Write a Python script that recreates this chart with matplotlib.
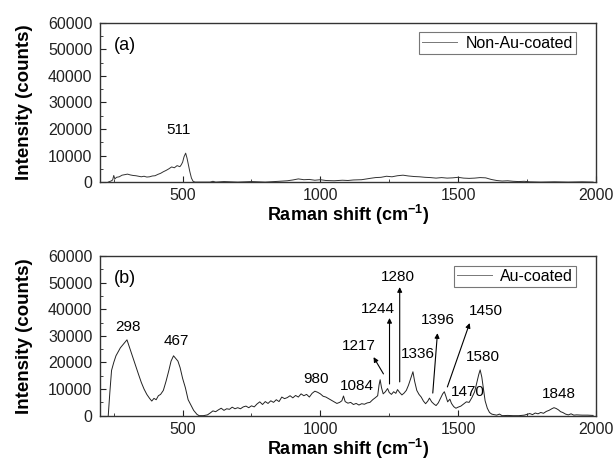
import matplotlib
matplotlib.use('Agg')
import matplotlib.pyplot as plt
from matplotlib.ticker import MultipleLocator

plt.rcParams['font.family'] = ['Liberation Sans', 'DejaVu Sans']

# (a) Non-Au-coated spectrum
shift_a = [230, 240, 246, 250, 254, 260, 270, 280, 290, 300, 310, 320, 330, 340, 350,
           360, 370, 380, 390, 400, 410, 420, 430, 440, 450, 460, 470, 480, 490, 495,
           500, 505, 511, 516, 520, 526, 532, 538, 545, 600, 610, 620, 650, 700, 750,
           800, 850, 880, 900, 920, 940, 960, 980, 1000, 1020, 1050, 1080, 1100, 1120,
           1150, 1180, 1200, 1220, 1240, 1260, 1280, 1300, 1320, 1340, 1360, 1380, 1400,
           1420, 1440, 1460, 1480, 1500, 1520, 1540, 1560, 1580, 1600, 1620, 1640, 1660,
           1680, 1700, 1720, 1740, 1760, 1800, 1850, 1900, 1950, 1990]
int_a = [0, 400, 800, 2500, 1200, 1800, 2000, 2600, 2800, 3000, 2700, 2500, 2400, 2200, 2000,
         2200, 1900, 2000, 2300, 2400, 2900, 3300, 3900, 4400, 5000, 5700, 5400, 6200, 5800, 6500,
         7500, 9500, 10900, 9000, 7000, 4000, 1500, 300, 0, 0, 300, 0, 200, 0, 200,
         0, 300, 500, 800, 1200, 900, 1000, 700, 900, 600, 500, 700, 600, 800,
         900, 1400, 1700, 1800, 2200, 2000, 2400, 2600, 2300, 2100, 2000, 1800, 1700,
         1500, 1700, 1500, 1600, 1800, 1500, 1400, 1500, 1700, 1600, 1000, 600, 400,
         500, 300, 200, 300, 100, 0, 100, 0, 100, 0]

# (b) Au-coated spectrum
shift_b = [230, 236, 242, 250, 258, 266, 274, 282, 290, 298, 306, 314, 322, 330, 340, 350,
           360, 370, 380, 388, 396, 404, 412, 420, 430, 440, 450, 458, 467, 475, 483, 491,
           500, 510, 520, 530, 540, 552, 560, 575, 590, 600, 610, 620, 630, 640, 650, 660,
           670, 680, 690, 700, 710, 720, 730, 740, 750, 760, 770, 780, 790, 800, 810, 820,
           830, 840, 850, 860, 870, 880, 890, 900, 910, 920, 930, 940, 950, 960, 970, 980,
           990, 1000, 1010, 1020, 1030, 1040, 1050, 1060, 1070, 1078, 1084, 1090, 1100, 1110,
           1120, 1130, 1140, 1150, 1160, 1170, 1180, 1190, 1200, 1208, 1213, 1217, 1222, 1228,
           1236, 1244, 1250, 1258, 1266, 1274, 1280, 1288, 1296, 1304, 1312, 1320, 1328, 1336,
           1342, 1350, 1358, 1366, 1374, 1382, 1390, 1396, 1404, 1412, 1420, 1428, 1436, 1444,
           1450, 1456, 1462, 1470, 1476, 1484, 1492, 1500, 1510, 1520, 1530, 1540, 1550, 1560,
           1568, 1575, 1580, 1586, 1592, 1598, 1606, 1614, 1622, 1630, 1640, 1650, 1660, 1680,
           1700, 1720, 1740, 1760, 1770, 1780, 1790, 1800, 1810, 1820, 1830, 1840, 1848, 1856,
           1864, 1872, 1880, 1890, 1900, 1910, 1920, 1930, 1950, 1970, 1990]
int_b = [0, 9000, 17000, 20000, 22500, 24000, 25500, 26500, 27500, 28500, 26000, 23500, 21000, 18500, 15500, 12500,
         10000, 8000, 6500, 5500, 6500, 6000, 7500, 8000, 9500, 13000, 17000, 20500, 22500, 21500, 20500, 18000,
         14000, 10500, 6000, 4000, 2000, 500, 0, 0, 300, 1000, 1800, 1500, 2200, 2800, 2000, 2600,
         2400, 3200, 2600, 3000, 2600, 3300, 3600, 3000, 3700, 3300, 4400, 5200, 4200, 5300, 4600, 5600,
         5000, 6000, 5300, 7000, 6400, 6800, 7500, 6700, 7600, 7000, 8200, 7500, 8000, 7000, 8400, 9200,
         8800, 8200, 7300, 7000, 6400, 5800, 5200, 4600, 5000, 5600, 7400, 5300, 4700, 5000,
         4200, 4600, 4000, 4500, 4300, 4800, 5000, 6000, 6800, 7500, 11500, 13500, 10500, 8200,
         9000, 10200, 8700, 8000, 9000, 8400, 9800, 8700, 7800, 8500, 9500, 11500, 14000, 16500,
         13000, 9500, 8000, 7000, 5500, 4500, 5500, 6600, 5200, 4400, 3800, 4800, 6500, 8200,
         9000, 7200, 5200, 6200, 4600, 3400, 2800, 3200, 3600, 4400, 5200, 5000, 6800, 9000,
         12500, 15500, 17200, 14500, 10000, 5600, 2800, 1200, 600, 400, 200, 600, 0, 100,
         0, 0, 200, 800, 400, 1000, 700, 1200, 900, 1600, 2000, 2600, 3000, 2700,
         2200, 1500, 1200, 600, 300, 700, 200, 300, 200, 200, 100]

# plain peak labels: (text, x, y)
labels_b = [('298', 302, 33300), ('467', 476, 28100), ('980', 985, 13800),
            ('1084', 1134, 11200), ('1217', 1138, 26200), ('1336', 1353, 23200),
            ('1470', 1534, 8900), ('1580', 1589, 22000), ('1848', 1865, 8200)]
# arrowed peak labels: (text, text x, text y, arrow tail x, tail y, head x, head y)
arrows_b = [('1244', 1207, 40100, 1251, 11900, 1251, 36700),
            ('1280', 1280, 52100, 1288, 12700, 1288, 48300),
            ('1396', 1425, 35900, 1408, 8500, 1425, 31000),
            ('1450', 1600, 39300, 1461, 10800, 1542, 34800),
            ('', 0, 0, 1229, 15700, 1193, 22000)]

fig = plt.figure(figsize=(6.16, 4.61), dpi=100)
ax1 = fig.add_axes([0.1623, 0.605, 0.805, 0.3456])
ax2 = fig.add_axes([0.1623, 0.0983, 0.805, 0.3464])

ax1.plot(shift_a, int_a, color='#333333', lw=0.7, label='Non-Au-coated')
ax2.plot(shift_b, int_b, color='#222222', lw=0.7, label='Au-coated')

for ax in (ax1, ax2):
    ax.set_xlim(200, 2000)
    ax.set_ylim(0, 60000)
    ax.xaxis.set_major_locator(MultipleLocator(500))
    ax.xaxis.set_minor_locator(MultipleLocator(250))
    ax.yaxis.set_major_locator(MultipleLocator(10000))
    ax.yaxis.set_minor_locator(MultipleLocator(5000))
    ax.tick_params(which='both', direction='in', labelsize=11.5, colors='#222222')
    ax.tick_params(which='major', length=4)
    ax.tick_params(which='minor', length=2)
    ax.tick_params(axis='y', which='major', pad=5.5)
    ax.tick_params(axis='x', which='major', pad=4.5)
    for s in ax.spines.values():
        s.set_color('#333333')
        s.set_linewidth(1.0)
    ax.set_xlabel('Raman shift (cm$^{\\mathregular{-1}}$)', fontsize=13,
                  fontweight='bold', labelpad=0)
    ax.set_ylabel('Intensity (counts)', fontsize=13.5, fontweight='bold')
    ax.yaxis.set_label_coords(-0.135, 0.5)
    leg = ax.legend(loc='upper right', fontsize=11.5, frameon=True, fancybox=False,
                    handlelength=2.2, borderpad=0.2, handletextpad=0.5,
                    borderaxespad=0, bbox_to_anchor=(0.96, 0.94))
    leg.get_frame().set_edgecolor('#555555')
    leg.get_frame().set_linewidth(0.8)
    leg.get_lines()[0].set_color('#777777')

ax1.text(291, 51600, '(a)', fontsize=13, ha='center', va='center')
ax1.text(484, 19600, '511', fontsize=11, ha='center', va='center')
ax2.text(291, 51400, '(b)', fontsize=13, ha='center', va='center')

for t, x, y in labels_b:
    ax2.text(x, y, t, fontsize=11, ha='center', va='center')
for t, tx, ty, x0, y0, x1, y1 in arrows_b:
    ax2.annotate('', xy=(x1, y1), xytext=(x0, y0),
                 arrowprops=dict(arrowstyle='-|>', color='black', lw=0.8,
                                 mutation_scale=7, shrinkA=0, shrinkB=0))
    if t:
        ax2.text(tx, ty, t, fontsize=11, ha='center', va='center')

plt.savefig('out.png', dpi=100)
